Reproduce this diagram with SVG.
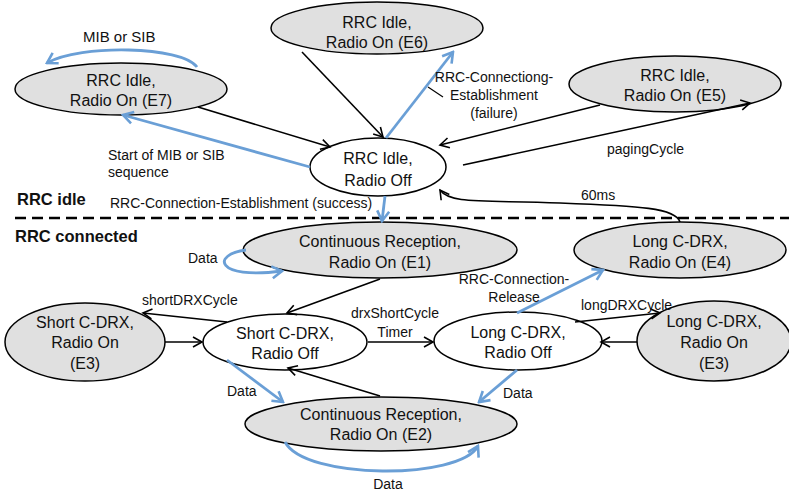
<svg xmlns="http://www.w3.org/2000/svg" width="789" height="495" viewBox="0 0 789 495">
<style>
.n ellipse{stroke:#000;stroke-width:1.5}
.g{fill:#e0e0e0}
.w{fill:#fff}
.t{font-family:"Liberation Sans",Arial,sans-serif;font-size:16px;fill:#111;text-anchor:middle}
.l{font-family:"Liberation Sans",Arial,sans-serif;font-size:14px;fill:#111}
.c{text-anchor:middle}
.h{font-family:"Liberation Sans",Arial,sans-serif;font-size:16.5px;font-weight:bold;fill:#111}
.k{fill:none;stroke:#000;stroke-width:1.6;marker-end:url(#ak)}
.b{fill:none;stroke:#6a9fd6;stroke-width:2.8;marker-end:url(#ab)}
</style>
<defs>
<marker id="ak" viewBox="-11 -7 13 14" refX="0" refY="0" markerWidth="13" markerHeight="14" markerUnits="userSpaceOnUse" orient="auto"><path d="M-9,-5 L0,0 L-9,5" fill="none" stroke="#000" stroke-width="1.6"/></marker>
<marker id="ab" viewBox="-12 -8 14 16" refX="0" refY="0" markerWidth="14" markerHeight="16" markerUnits="userSpaceOnUse" orient="auto"><path d="M-10,-6 L0,0 L-10,6" fill="none" stroke="#6a9fd6" stroke-width="2.6"/></marker>
</defs>
<rect width="789" height="495" fill="#fff"/>
<g id="section-labels">
<text class="h" x="17" y="205">RRC idle</text>
<line x1="15" y1="218" x2="789" y2="218" stroke="#000" stroke-width="2.5" stroke-dasharray="11 6"/>
<text class="h" x="15" y="242">RRC connected</text>
</g>
<g id="nodes" class="n">
<g id="e7"><ellipse class="g" cx="121" cy="89" rx="106" ry="26"/><text class="t" x="121" y="86">RRC Idle,</text><text class="t" x="121" y="106">Radio On (E7)</text></g>
<g id="e6"><ellipse class="g" cx="377" cy="28" rx="106" ry="26"/><text class="t" x="377" y="28">RRC Idle,</text><text class="t" x="377" y="48">Radio On (E6)</text></g>
<g id="e5"><ellipse class="g" cx="675" cy="84" rx="106" ry="28"/><text class="t" x="675" y="81">RRC Idle,</text><text class="t" x="675" y="101">Radio On (E5)</text></g>
<g id="idle-off"><ellipse class="w" cx="378" cy="167" rx="68" ry="29"/><text class="t" x="378" y="164">RRC Idle,</text><text class="t" x="378" y="186">Radio Off</text></g>
<g id="e1"><ellipse class="g" cx="380" cy="250" rx="137" ry="28"/><text class="t" x="380" y="247">Continuous Reception,</text><text class="t" x="380" y="268">Radio On (E1)</text></g>
<g id="e4"><ellipse class="g" cx="680" cy="250" rx="106" ry="28"/><text class="t" x="680" y="247">Long C-DRX,</text><text class="t" x="680" y="268">Radio On (E4)</text></g>
<g id="e3-short"><ellipse class="g" cx="85" cy="342" rx="80" ry="39"/><text class="t" x="85" y="328">Short C-DRX,</text><text class="t" x="85" y="348">Radio On</text><text class="t" x="85" y="369">(E3)</text></g>
<g id="short-off"><ellipse class="w" cx="285" cy="342" rx="82" ry="28"/><text class="t" x="285" y="339">Short C-DRX,</text><text class="t" x="285" y="359">Radio Off</text></g>
<g id="long-off"><ellipse class="w" cx="518" cy="341" rx="84" ry="29"/><text class="t" x="518" y="338">Long C-DRX,</text><text class="t" x="518" y="358">Radio Off</text></g>
<g id="e3-long"><ellipse class="g" cx="714" cy="341" rx="77" ry="40"/><text class="t" x="714" y="327">Long C-DRX,</text><text class="t" x="714" y="348">Radio On</text><text class="t" x="714" y="369">(E3)</text></g>
<g id="e2"><ellipse class="g" cx="381" cy="424" rx="136" ry="27"/><text class="t" x="381" y="420">Continuous Reception,</text><text class="t" x="381" y="440">Radio On (E2)</text></g>
</g>
<g id="connectors">
<path class="k" d="M198,107 L330,147"/>
<path class="b" d="M310,167 L123,115"/>
<path class="b" d="M197,67 C182,46 80,44 47,63"/>
<path class="k" d="M302,52 L383,137"/>
<path class="b" d="M386,138 L453,52"/>
<line x1="428" y1="87" x2="443" y2="97" stroke="#000" stroke-width="1.2"/>
<path class="k" d="M600,105 L440,145"/>
<path class="k" d="M463,165 L750,103"/>
<path class="k" d="M680,222 C676,208 640,206 560,203 C480,200 450,204 440,190"/>
<path class="b" d="M385,196 L382,221"/>
<path class="b" d="M246,250 C212,254 214,280 282,271"/>
<path class="k" d="M380,279 L287,313"/>
<path class="k" d="M227,322 L143,313"/>
<path class="k" d="M165,342 L202,342"/>
<path class="k" d="M368,342 L433,342"/>
<path class="b" d="M517,313 L603,270"/>
<path class="k" d="M575,322 L660,313"/>
<path class="k" d="M637,342 L601,342"/>
<path class="b" d="M227,360 L283,402"/>
<path class="k" d="M380,396 L288,368"/>
<path class="b" d="M517,370 L479,402"/>
<path class="b" d="M285,442 C305,480 460,480 478,446"/>
</g>
<g id="labels">
<text class="l" x="83" y="42" style="font-size:15px">MIB or SIB</text>
<text class="l" x="108" y="160">Start of MIB or SIB</text>
<text class="l" x="108" y="177">sequence</text>
<text class="l c" x="494" y="82">RRC-Connectiong-</text>
<text class="l c" x="494" y="100">Establishment</text>
<text class="l c" x="494" y="118">(failure)</text>
<text class="l" x="607" y="154">pagingCycle</text>
<text class="l" x="581" y="200">60ms</text>
<text class="l" x="110" y="208">RRC-Connection-Establishment (success)</text>
<text class="l" x="188" y="263">Data</text>
<text class="l" x="142" y="305">shortDRXCycle</text>
<text class="l c" x="395" y="318">drxShortCycle</text>
<text class="l c" x="395" y="337">Timer</text>
<text class="l c" x="514" y="284">RRC-Connection-</text>
<text class="l c" x="514" y="302">Release</text>
<text class="l" x="581" y="310">longDRXCycle</text>
<text class="l" x="227" y="396">Data</text>
<text class="l" x="503" y="398">Data</text>
<text class="l c" x="388" y="489">Data</text>
</g>
</svg>
